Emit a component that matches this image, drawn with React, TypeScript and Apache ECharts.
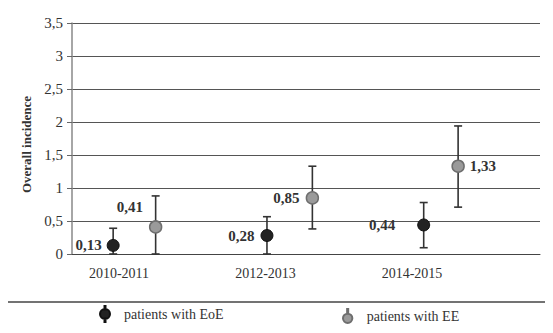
import React, { useEffect, useRef } from "react";
import * as echarts from "echarts";

const categories = ["2010-2011", "2012-2013", "2014-2015"];
const categoryPos = [1, 2, 3];
const xEoE = [0.96, 2.01, 3.08];
const xEE = [1.25, 2.32, 3.315];
const eoeValues = [0.13, 0.28, 0.44];
const eoeLow = [0.0, 0.0, 0.095];
const eoeHigh = [0.39, 0.565, 0.78];
const eeValues = [0.41, 0.85, 1.33];
const eeLow = [0.0, 0.38, 0.71];
const eeHigh = [0.88, 1.33, 1.94];

const SERIF = "Liberation Serif";
const fmt = (v: number) => String(v).replace(".", ",");

export default function App() {
  const ref = useRef<HTMLDivElement>(null);
  useEffect(() => {
    if (!ref.current) return;
    const chart = echarts.init(ref.current, null, { renderer: "svg" });

    const errRender = (params: any, api: any) => {
      const x = api.value(0);
      const lo = api.coord([x, api.value(1)]);
      const hi = api.coord([x, api.value(2)]);
      const cap = 4;
      const style = { stroke: "#333", lineWidth: 1.6 };
      return {
        type: "group",
        children: [
          { type: "line", shape: { x1: lo[0], y1: lo[1], x2: hi[0], y2: hi[1] }, style },
          { type: "line", shape: { x1: hi[0] - cap, y1: hi[1], x2: hi[0] + cap, y2: hi[1] }, style },
          { type: "line", shape: { x1: lo[0] - cap, y1: lo[1], x2: lo[0] + cap, y2: lo[1] }, style },
        ],
      };
    };

    const labelBase = {
      show: true,
      fontFamily: SERIF,
      fontWeight: "bold",
      fontSize: 15,
      color: "#333",
      formatter: (p: any) => fmt(p.value[1]),
    };

    const eoeLabelCfg = [
      { position: "left", distance: 5 },
      { position: "left", distance: 6 },
      { position: "left", distance: 22 },
    ];
    const eeLabelCfg = [
      { position: "left", distance: 4, offset: [-2, -20] },
      { position: "left", distance: 6 },
      { position: "right", distance: 5 },
    ];

    const eoeIcon =
      "path://M5.5,0 L6.5,0 L6.5,3.5 L5.5,3.5 Z M5.5,12.5 L6.5,12.5 L6.5,16 L5.5,16 Z M1,8 A5,5 0 1,0 11,8 A5,5 0 1,0 1,8 Z";
    const eeIcon =
      "path://M5.5,0 L6.5,0 L6.5,4 L5.5,4 Z M1.5,9 A4.5,4.5 0 1,0 10.5,9 A4.5,4.5 0 1,0 1.5,9 Z";

    const legendText = { fontFamily: SERIF, fontSize: 14, color: "#333" };

    chart.setOption({
      animation: false,
      backgroundColor: "#fff",
      textStyle: { fontFamily: SERIF },
      grid: { left: 72, right: 13, top: 23, bottom: 79, containLabel: false },
      xAxis: {
        type: "value",
        min: 0.679,
        max: 3.874,
        splitLine: { show: false },
        axisLine: { show: true, onZero: false, lineStyle: { color: "#444", width: 1 } },
        axisTick: { show: false },
        axisLabel: {
          customValues: categoryPos,
          formatter: (v: number) => categories[categoryPos.indexOf(Math.round(v))] ?? "",
          fontFamily: SERIF,
          fontSize: 14,
          color: "#333",
          margin: 12,
        },
      },
      yAxis: {
        type: "value",
        min: 0,
        max: 3.5,
        interval: 0.5,
        name: "Overall incidence",
        nameLocation: "middle",
        nameGap: 34,
        nameTextStyle: {
          fontFamily: SERIF,
          fontWeight: "bold",
          fontSize: 13,
          color: "#333",
          padding: [0, 12, 0, 0],
        },
        axisLine: { show: true, lineStyle: { color: "#888", width: 1.5 } },
        axisTick: { show: true, length: 5, lineStyle: { color: "#666" } },
        splitLine: { show: true, lineStyle: { color: "#555", width: 1 } },
        axisLabel: {
          formatter: (v: number) => fmt(v),
          fontFamily: SERIF,
          fontSize: 15,
          color: "#333",
          margin: 9,
        },
      },
      legend: [
        {
          data: ["patients with EoE"],
          left: 99,
          top: 305,
          padding: 0,
          itemGap: 0,
          itemWidth: 12,
          itemHeight: 16,
          icon: eoeIcon,
          textStyle: { ...legendText, padding: [0, 0, 0, 8] },
        },
        {
          data: ["patients with EE"],
          left: 342,
          top: 308,
          padding: 0,
          itemGap: 0,
          itemWidth: 10,
          itemHeight: 14,
          icon: eeIcon,
          textStyle: { ...legendText, padding: [0, 0, 0, 9] },
        },
      ],
      graphic: [
        {
          type: "line",
          shape: { x1: 7, y1: 302, x2: 553, y2: 302 },
          style: { stroke: "#444", lineWidth: 1.3 },
        },
      ],
      series: [
        {
          type: "custom",
          name: "errEoE",
          renderItem: errRender,
          data: xEoE.map((x, i) => [x, eoeLow[i], eoeHigh[i]]),
          z: 1,
          silent: true,
        },
        {
          type: "custom",
          name: "errEE",
          renderItem: errRender,
          data: xEE.map((x, i) => [x, eeLow[i], eeHigh[i]]),
          z: 1,
          silent: true,
        },
        {
          type: "scatter",
          name: "patients with EoE",
          symbolSize: 12,
          itemStyle: { color: "#222", borderColor: "#111", borderWidth: 1, opacity: 1 },
          z: 3,
          label: labelBase,
          data: xEoE.map((x, i) => ({ value: [x, eoeValues[i]], label: eoeLabelCfg[i] })),
        },
        {
          type: "scatter",
          name: "patients with EE",
          symbolSize: 12,
          itemStyle: { color: "#9a9a9a", borderColor: "#6e6e6e", borderWidth: 1.5, opacity: 1 },
          z: 3,
          label: labelBase,
          data: xEE.map((x, i) => ({ value: [x, eeValues[i]], label: eeLabelCfg[i] })),
        },
      ],
    });
    return () => chart.dispose();
  }, []);

  return <div ref={ref} style={{ width: 553, height: 333, margin: -8 }} />;
}
